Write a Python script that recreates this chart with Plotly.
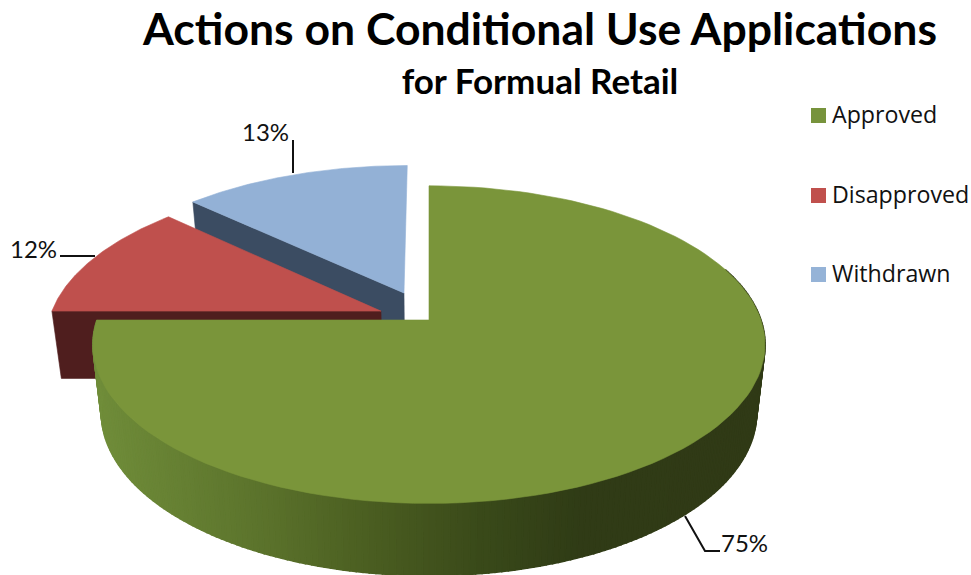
import numpy as np
import plotly.graph_objects as go

# ---- data ----
categories = ["Approved", "Disapproved", "Withdrawn"]
values = [75, 12, 13]
title_main = "Actions on Conditional Use Applications"
title_sub = "for Formual Retail"

# ---- styles ----
top_colors = ["#7a953a", "#bf504d", "#93b1d6"]
legend_colors = ["#77933c", "#c0504d", "#95b3d7"]
wall_colors = [None, "#4f1e1e", "#3b4c62"]
explode = [0.0, 0.157, 0.195]
CX, CY, RX, RY, K = 429, 320, 332, 155, 0.155
DEPTH, SHRINK = 67.5, 0.975
shade_x = [95, 250, 360, 480, 580, 765]
shade_rgb = [(112, 141, 58), (93, 117, 45), (76, 96, 34), (58, 74, 26), (48, 60, 22), (48, 58, 22)]


def project(u, v):
    w = 1 + K * v
    return CX + RX * u / w, CY - RY * v / w, w


def lower(x, y, w):
    return CX + (x - CX) * SHRINK, y + DEPTH / w ** 0.4


def slice_outline(start, end, off):
    th = np.radians(np.linspace(start, end, 121))
    u = np.r_[off[0], np.sin(th) + off[0], off[0]]
    v = np.r_[off[1], np.cos(th) + off[1], off[1]]
    return project(u, v)


fig = go.Figure()

# slice angles derived from the values (clockwise from 12 o'clock)
total = sum(values)
edges = np.r_[0, np.cumsum(values)] / total * 360
offsets = []
for i in range(3):
    mid = np.radians((edges[i] + edges[i + 1]) / 2)
    offsets.append((explode[i] * np.sin(mid), explode[i] * np.cos(mid)))


def add_poly(x, y, color, name=None, lw=0.6):
    fig.add_trace(go.Scatter(
        x=list(x), y=list(y), mode="lines", fill="toself", fillcolor=color,
        line=dict(color=color, width=lw), hoverinfo="skip", showlegend=False, name=name))


# exploded slices: back to front (Withdrawn, Disapproved, Approved)
for i, edge_idx in ((2, 2), (1, 1)):
    off = offsets[i]
    rim = project(np.array([np.sin(np.radians(edges[edge_idx])) + off[0]]),
                  np.array([np.cos(np.radians(edges[edge_idx])) + off[1]]))
    apex = project(np.array([off[0]]), np.array([off[1]]))
    rb = lower(*rim)
    ab = lower(*apex)
    add_poly([rim[0][0], apex[0][0], ab[0][0], rb[0][0], rim[0][0]],
             [rim[1][0], apex[1][0], ab[1][0], rb[1][0], rim[1][0]], wall_colors[i])
    x, y, _ = slice_outline(edges[i], edges[i + 1], off)
    add_poly(x, y, top_colors[i], categories[i])

# Approved: shaded rim strips then the top face
steps = np.arange(max(edges[0], 70), edges[1] + 0.01, 1.0)
for a, b in zip(steps[:-1], steps[1:]):
    th = np.radians(np.linspace(a, b, 3))
    x, y, w = project(np.sin(th), np.cos(th))
    xb, yb = lower(x, y, w)
    xm = float(np.mean(x))
    rgb = [np.interp(xm, shade_x, [c[k] for c in shade_rgb]) for k in range(3)]
    col = "rgb(%d,%d,%d)" % tuple(rgb)
    add_poly(np.r_[x, xb[::-1], x[0]], np.r_[y, yb[::-1], y[0]], col, lw=1.6)

x, y, _ = slice_outline(edges[0], edges[1], offsets[0])
add_poly(x, y, top_colors[0], categories[0])

# key: square swatch and label for each category
key_x = 818.5
key_text_x = 832
key_y = [115.5, 195.5, 274.5]
for c, col, ky in zip(categories, legend_colors, key_y):
    fig.add_trace(go.Scatter(
        x=[key_x], y=[ky], mode="markers", name=c,
        showlegend=False, hoverinfo="skip",
        marker=dict(symbol="square", size=15, color=col)))

key_labels = [
    dict(x=key_text_x, y=ky, xref="x", yref="y", text=c, showarrow=False, xanchor="left",
         xshift=-2, yshift=2, font=dict(family="Open Sans", size=23.2, color="#111"))
    for c, ky in zip(categories, key_y)
]

label_pos = [(744, 542), (33, 248), (265, 131)]
annotations = key_labels + [
    dict(x=px, y=py, xref="x", yref="y", text=f"{v}%", showarrow=False,
         font=dict(family="Lato", size=24, color="#111"))
    for (px, py), v in zip(label_pos, values)
]

leaders = ["M685,516 L705,551 L720,551", "M60,256 L95,256", "M293,140 L293,173"]
shapes = [dict(type="path", path=p, xref="x", yref="y", line=dict(color="#111", width=2), layer="above")
          for p in leaders]

W, H = 971, 575
fig.update_layout(
    width=W, height=H, autosize=False, showlegend=False,
    margin=dict(l=0, r=0, t=0, b=0),
    paper_bgcolor="white", plot_bgcolor="white",
    xaxis=dict(range=[0, W], visible=False, fixedrange=True),
    yaxis=dict(range=[H, 0], visible=False, fixedrange=True),
    title=dict(
        text=(f"<b><span style='font-size:44.5px'>{title_main}</span></b><br>"
              f"<b><span style='font-size:35px'>{title_sub}</span></b>"),
        x=540 / W, xanchor="center", y=1 - 45 / H, yanchor="top",
        font=dict(family="Lato", size=38, color="black")),
    annotations=annotations, shapes=shapes,
    hovermode=False,
)
fig.write_html("out.html", config={"displayModeBar": False},
               post_script="document.body.style.margin='0';document.body.style.overflow='hidden';")
